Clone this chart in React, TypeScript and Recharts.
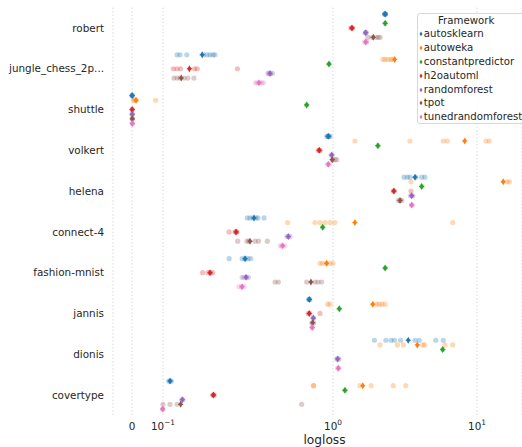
import React from 'react';
import { ScatterChart, Scatter, XAxis, YAxis, CartesianGrid, Legend } from 'recharts';

// ---------- data ----------
const categories = [
  'robert',
  'jungle_chess_2p...',
  'shuttle',
  'volkert',
  'helena',
  'connect-4',
  'fashion-mnist',
  'jannis',
  'dionis',
  'covertype',
];

const frameworks = [
  'autosklearn',
  'autoweka',
  'constantpredictor',
  'h2oautoml',
  'randomforest',
  'tpot',
  'tunedrandomforest',
];

const colors = ['#1f77b4', '#ff7f0e', '#2ca02c', '#d62728', '#9467bd', '#8c564b', '#e377c2'];

// mean logloss per category (null = no result)
const autosklearnMean = [2.3, 0.17, 0.0005, 0.938, 3.71, 0.343, 0.304, 0.725, 3.33, 0.11];
const autowekaMean = [null, 2.68, 0.013, 8.22, 15.2, 1.42, 0.918, 1.89, 3.85, 1.61];
const constantpredictorMean = [2.303, 0.947, 0.7, 2.05, 4.13, 0.87, 2.303, 1.106, 5.78, 1.21];
const h2oautomlMean = [1.355, 0.143, 0.0005, 0.83, 2.65, 0.269, 0.189, 0.725, null, 0.198];
const randomforestMean = [1.687, 0.426, 0.0008, 0.983, 3.52, 0.546, 0.308, 0.766, 1.078, 0.13];
const tpotMean = [1.905, 0.128, 0.001, 0.99, 2.92, 0.325, 0.742, 0.759, null, 0.127];
const tunedrandomforestMean = [1.687, 0.367, 0.001, 0.938, 3.52, 0.506, 0.292, 0.755, 1.088, 0.099];

// per-fold logloss per category
const autosklearnFolds = [
  [2.28, 2.29, 2.3, 2.31, 2.32],
  [0.121, 0.126, 0.138, 0.174, 0.182, 0.189, 0.197, 0.202],
  [0.0003, 0.0005, 0.0008],
  [0.92, 0.93, 0.94, 0.95, 0.96],
  [3.11, 3.28, 3.43, 3.76, 4.13, 4.35],
  [0.313, 0.325, 0.338, 0.352, 0.362, 0.393],
  [0.245, 0.292, 0.304, 0.316, 0.328],
  [0.72, 0.725, 0.73],
  [1.94, 2.33, 2.53, 2.67, 2.95, 3.71, 3.97, 5.17, 5.83],
  [0.108, 0.11, 0.112],
];
const autowekaFolds = [
  [],
  [2.22, 2.3, 2.41, 2.53, 2.6],
  [0.005, 0.008, 0.013, 0.076],
  [1.42, 3.42, 5.83, 6.22, 11.55, 12.17],
  [3.48, 16.2, 16.8],
  [0.541, 0.784, 0.839, 0.897, 0.96, 1.03, 6.78],
  [0.839, 0.868, 0.91, 0.96, 1.0],
  [0.93, 0.96, 2.01, 2.09, 2.19, 2.3],
  [2.12, 2.8, 3.08, 4.2, 4.33, 5.99, 6.78],
  [0.766, 0.77, 1.54, 1.84, 2.62, 3.2],
];
const constantpredictorFolds = [
  [2.303], [0.947], [0.7], [2.05], [4.13], [0.87], [2.303], [1.106], [5.78], [1.21],
];
const h2oautomlFolds = [
  [1.33, 1.35, 1.37],
  [0.115, 0.121, 0.127, 0.153, 0.159, 0.274],
  [0.0004, 0.0006],
  [0.82, 0.83, 0.84],
  [2.62, 2.66, 3.48],
  [0.245, 0.265, 0.27, 0.272],
  [0.171, 0.184, 0.19, 0.196],
  [0.715, 0.73, 0.839],
  [],
  [0.196, 0.198, 0.2],
];
const randomforestFolds = [
  [1.67, 1.69, 1.7],
  [0.415, 0.42, 0.43, 0.44],
  [0.0006, 0.001],
  [0.975, 0.99],
  [3.45, 3.52, 3.58],
  [0.535, 0.546, 0.56],
  [0.292, 0.3, 0.31, 0.318],
  [0.76, 0.77],
  [1.06, 1.08, 1.1],
  [0.129, 0.131],
];
const tpotFolds = [
  [1.75, 1.87, 1.99, 2.06, 2.12],
  [0.116, 0.121, 0.126, 0.133, 0.14, 0.152],
  [0.001, 0.0015],
  [0.99, 1.03, 1.06],
  [2.85, 2.92, 3.0],
  [0.275, 0.312, 0.32, 0.348, 0.365, 0.411],
  [0.456, 0.477, 0.7, 0.784, 0.816, 0.857],
  [0.75, 0.77],
  [],
  [0.1, 0.11, 0.121, 0.654],
];
const tunedrandomforestFolds = [
  [1.66, 1.7, 1.72],
  [0.35, 0.36, 0.37, 0.38, 0.39],
  [0.0008, 0.0012],
  [0.93, 0.95],
  [3.5, 3.55],
  [0.49, 0.5, 0.52],
  [0.28, 0.29, 0.3],
  [0.75, 0.76],
  [1.08, 1.1],
  [0.099, 0.0995],
];

const xTickValues = [0, 0.1, 1, 10];
const xTickLabels: [string, string][] = [
  ['0', ''],
  ['10', '\u22121'],
  ['10', '0'],
  ['10', '1'],
];

// ---------- scale helpers (symlog-like axis of the original) ----------
const toAxis = (v: number) =>
  v <= 0.1 ? (v / 0.1) * 31 : v <= 1 ? 31 + Math.log10(v / 0.1) * 170 : 201 + Math.log10(v) * 144;

const meansByFramework = [
  autosklearnMean,
  autowekaMean,
  constantpredictorMean,
  h2oautomlMean,
  randomforestMean,
  tpotMean,
  tunedrandomforestMean,
];
const foldsByFramework = [
  autosklearnFolds,
  autowekaFolds,
  constantpredictorFolds,
  h2oautomlFolds,
  randomforestFolds,
  tpotFolds,
  tunedrandomforestFolds,
];

const nF = frameworks.length;
const slotOffset = (k: number) => -0.4 + ((k + 0.5) * 0.8) / nF;

const foldData = frameworks.map((_, k) =>
  foldsByFramework[k].flatMap((vals, ci) => vals.map((v) => ({ x: toAxis(v), y: ci + slotOffset(k) })))
);
const meanData = frameworks.map((_, k) =>
  meansByFramework[k].flatMap((m, ci) => (m == null ? [] : [{ x: toAxis(m), y: ci + slotOffset(k) }]))
);

const xTicks = xTickValues.map(toAxis);
const yTicks = categories.map((_, i) => i);

const TEXT = '#262626';
const FONT = 'DejaVu Sans';

const XTick = (props: any) => {
  const { x, y, payload } = props;
  let idx = xTicks.findIndex((t) => Math.abs(t - payload.value) < 1e-6);
  if (idx < 0) idx = 0;
  const [base, exp] = xTickLabels[idx];
  return (
    <text x={x} y={y + 6.2} textAnchor="middle" fontSize={10.4} fill={TEXT} fontFamily={FONT}>
      {base}
      {exp ? (
        <tspan dy={-4.2} fontSize={7.4}>
          {exp}
        </tspan>
      ) : null}
    </text>
  );
};

const circleShape = (color: string) => (props: any) =>
  <circle cx={props.cx} cy={props.cy} r={2.6} fill={color} fillOpacity={0.3} />;

const diamondShape = (color: string) => (props: any) => {
  const { cx, cy } = props;
  return (
    <g>
      <path
        d={`M${cx},${cy - 3.5}L${cx + 2.1},${cy}L${cx},${cy + 3.5}L${cx - 2.1},${cy}Z`}
        fill={color}
      />
      <line x1={cx - 2.6} x2={cx + 2.6} y1={cy} y2={cy} stroke={color} strokeWidth={1} />
    </g>
  );
};

const renderLegend = () => (
  <div
    style={{
      position: 'relative',
      width: 130,
      height: 111,
      background: 'rgba(255,255,255,0.8)',
      border: '1px solid #d8d8d8',
      borderRadius: 3,
      boxSizing: 'border-box',
      fontFamily: FONT,
      fontSize: 10.2,
      color: TEXT,
    }}
  >
    <div style={{ position: 'absolute', left: 20, top: 0, lineHeight: '13.8px', whiteSpace: 'nowrap' }}>
      Framework
    </div>
    {frameworks.map((f, i) => (
      <div
        key={f}
        style={{
          position: 'absolute',
          left: 0,
          top: 13.4 + i * 13.8,
          height: 13.8,
          lineHeight: '13.8px',
          whiteSpace: 'nowrap',
        }}
      >
        <svg width={6} height={13.8} style={{ position: 'absolute', left: 0, top: 0 }}>
          <path d="M3,4.6L4.5,6.9L3,9.2L1.5,6.9Z" fill={colors[i]} />
        </svg>
        <span style={{ position: 'absolute', left: 5.8, top: 0 }}>{f}</span>
      </div>
    ))}
  </div>
);

export default function App() {
  return (
    <div
      style={{
        position: 'absolute',
        left: 0,
        top: 0,
        width: 522,
        height: 447,
        overflow: 'hidden',
        background: '#fff',
        fontFamily: FONT,
      }}
    >
      <ScatterChart width={522} height={447} margin={{ top: 7.6, right: 0, bottom: 0, left: 0 }}>
        <CartesianGrid horizontal={false} vertical stroke="#d9d9d9" strokeDasharray="1.5 2" />
        <XAxis
          type="number"
          dataKey="x"
          domain={[-19, 390]}
          ticks={xTicks}
          allowDataOverflow
          axisLine={false}
          tickLine={false}
          tickSize={6}
          tickMargin={2}
          height={31.6}
          tick={<XTick />}
          interval={0}
          label={{
            content: (p: any) => {
              const vb = p.viewBox || { x: 113, y: 415.4, width: 409, height: 31.6 };
              return (
                <text
                  x={vb.x + vb.width / 2 + 7}
                  y={vb.y + vb.height - 3.5}
                  textAnchor="middle"
                  fontSize={12.2}
                  fill={TEXT}
                  fontFamily={FONT}
                >
                  logloss
                </text>
              );
            },
          }}
        />
        <YAxis
          type="number"
          dataKey="y"
          domain={[-0.5, 9.5]}
          reversed
          ticks={yTicks}
          interval={0}
          allowDataOverflow
          width={113}
          axisLine={false}
          tickLine={false}
          tickSize={6}
          tickMargin={3}
          tickFormatter={(v: number) => categories[v] ?? ''}
          tick={{ fontSize: 10.4, fill: TEXT, fontFamily: FONT }}
        />
        {frameworks.map((f, k) => (
          <Scatter
            key={`folds-${f}`}
            name={`${f}-folds`}
            data={foldData[k]}
            fill={colors[k]}
            shape={circleShape(colors[k])}
            isAnimationActive={false}
            legendType="none"
          />
        ))}
        {frameworks.map((f, k) => (
          <Scatter
            key={`mean-${f}`}
            name={f}
            data={meanData[k]}
            fill={colors[k]}
            shape={diamondShape(colors[k])}
            isAnimationActive={false}
          />
        ))}
        <Legend
          layout="vertical"
          align="center"
          verticalAlign="middle"
          content={renderLegend}
          wrapperStyle={{ left: 417, top: 13, width: 130, height: 111 }}
        />
      </ScatterChart>
    </div>
  );
}
